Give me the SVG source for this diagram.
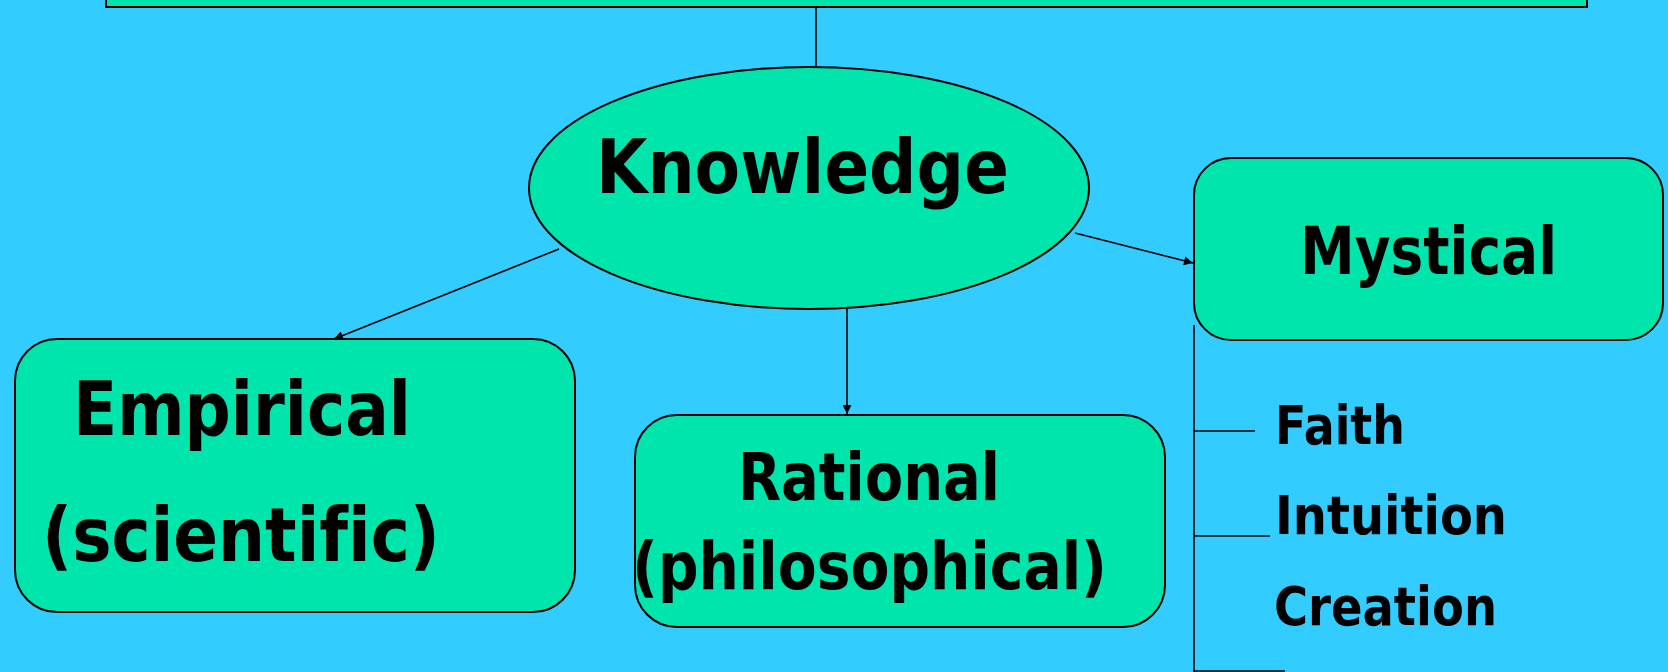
<svg xmlns="http://www.w3.org/2000/svg" width="1668" height="672" viewBox="0 0 1668 672">
<style>
.shape{fill:#00E5AC;stroke:#000;stroke-width:2}
.conn{stroke:#000;stroke-width:1.6;fill:none}
.lbl{font-family:"DejaVu Sans","DejaVu Sans Condensed",Verdana,sans-serif;font-weight:bold;fill:#000;font-variant-ligatures:none}
</style>
<defs>
<marker id="arr" viewBox="0 0 10 10" refX="10" refY="5" markerWidth="11" markerHeight="9" markerUnits="userSpaceOnUse" orient="auto">
<path d="M0,0 L10,5 L0,10 z" fill="#000"/>
</marker>
</defs>
<rect x="0" y="0" width="1668" height="672" fill="#33CCFF"/>
<g id="top-box"><rect class="shape" x="106" y="-10" width="1481" height="17"/></g>
<g id="connectors">
<line class="conn" x1="816" y1="7" x2="816" y2="67"/>
<line class="conn" x1="559" y1="249" x2="334" y2="339" marker-end="url(#arr)"/>
<line class="conn" x1="847" y1="309" x2="847" y2="414" marker-end="url(#arr)"/>
<line class="conn" x1="1075" y1="233" x2="1193" y2="263" marker-end="url(#arr)"/>
<line class="conn" x1="1194" y1="325" x2="1194" y2="672"/>
<line class="conn" x1="1194" y1="431" x2="1255" y2="431"/>
<line class="conn" x1="1194" y1="536" x2="1270" y2="536"/>
<line class="conn" x1="1194" y1="671" x2="1285" y2="671"/>
</g>
<g id="knowledge">
<ellipse class="shape" cx="809" cy="188" rx="280" ry="121"/>
<text class="lbl" x="596" y="193" font-size="75" textLength="413" lengthAdjust="spacingAndGlyphs">Knowledge</text>
</g>
<g id="mystical">
<rect class="shape" x="1194" y="158" width="469" height="182" rx="37" ry="37"/>
<text class="lbl" x="1300" y="274" font-size="66" textLength="257" lengthAdjust="spacingAndGlyphs">Mystical</text>
</g>
<g id="empirical">
<rect class="shape" x="15" y="339" width="560" height="273" rx="42" ry="42"/>
<text class="lbl" x="73" y="435" font-size="75" textLength="338" lengthAdjust="spacingAndGlyphs">Empirical</text>
<text class="lbl" x="42" y="561" font-size="75" textLength="398" lengthAdjust="spacingAndGlyphs">(scientific)</text>
</g>
<g id="rational">
<rect class="shape" x="635" y="415" width="530" height="212" rx="42" ry="42"/>
<text class="lbl" x="738" y="500" font-size="66" textLength="262" lengthAdjust="spacingAndGlyphs">Rational</text>
<text class="lbl" x="632" y="589" font-size="66" textLength="475" lengthAdjust="spacingAndGlyphs">(philosophical)</text>
</g>
<g id="faith"><text class="lbl" x="1275" y="444" font-size="54" textLength="130" lengthAdjust="spacingAndGlyphs">Faith</text></g>
<g id="intuition"><text class="lbl" x="1275" y="534" font-size="54" textLength="232" lengthAdjust="spacingAndGlyphs">Intuition</text></g>
<g id="creation"><text class="lbl" x="1274" y="625" font-size="54" textLength="223" lengthAdjust="spacingAndGlyphs">Creation</text></g>
</svg>
